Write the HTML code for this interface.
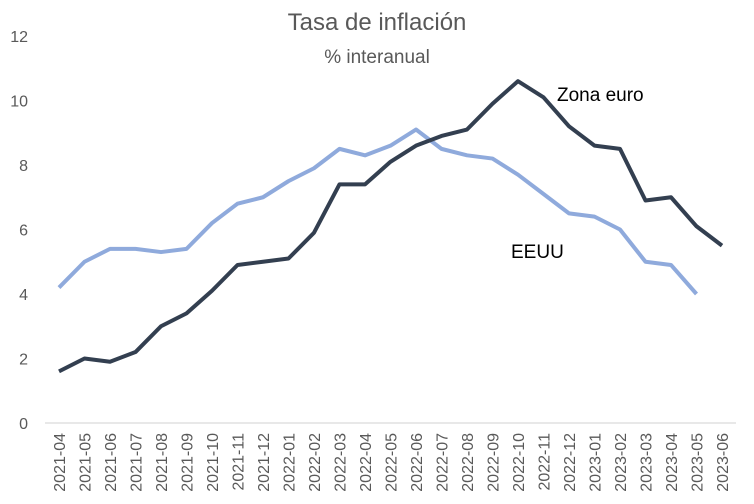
<!DOCTYPE html>
<html><head><meta charset="utf-8"><style>
body{margin:0;background:#fff;}
svg{display:block;font-family:"Liberation Sans",sans-serif;}
</style></head><body>
<svg id="chart" width="754" height="504" viewBox="0 0 754 504">
<rect width="754" height="504" fill="#fff"/>
<text x="377" y="30" text-anchor="middle" font-size="24" fill="#595959">Tasa de inflación</text>
<text x="377" y="63" text-anchor="middle" font-size="19" fill="#595959">% interanual</text>
<g id="yaxis"></g>
<g id="xaxis"></g>
<g id="series"></g>
<text x="557" y="101" font-size="19" fill="#000">Zona euro</text>
<text x="511" y="258" font-size="19" fill="#000">EEUU</text>
</svg>
<script>
const categories=["2021-04","2021-05","2021-06","2021-07","2021-08","2021-09","2021-10","2021-11","2021-12","2022-01","2022-02","2022-03","2022-04","2022-05","2022-06","2022-07","2022-08","2022-09","2022-10","2022-11","2022-12","2023-01","2023-02","2023-03","2023-04","2023-05","2023-06"];
const euroValues=[1.6,2.0,1.9,2.2,3.0,3.4,4.1,4.9,5.0,5.1,5.9,7.4,7.4,8.1,8.6,8.9,9.1,9.9,10.6,10.1,9.2,8.6,8.5,6.9,7.0,6.1,5.5];
const usValues=[4.2,5.0,5.4,5.4,5.3,5.4,6.2,6.8,7.0,7.5,7.9,8.5,8.3,8.6,9.1,8.5,8.3,8.2,7.7,7.1,6.5,6.4,6.0,5.0,4.9,4.0];
const yTicks=[0,2,4,6,8,10,12];
const NS="http://www.w3.org/2000/svg";
const x0=59,x1=722,y0=423,yTop=36,yMax=12;
function xs(i){return x0+(x1-x0)*i/(categories.length-1);}
function ys(v){return y0-(y0-yTop)*v/yMax;}
function mk(tag,attrs,parent){const e=document.createElementNS(NS,tag);for(const k in attrs)e.setAttribute(k,attrs[k]);parent.appendChild(e);return e;}
const ya=document.getElementById('yaxis'),xa=document.getElementById('xaxis'),sg=document.getElementById('series');
yTicks.forEach(v=>{
  const t=mk('text',{x:28,y:ys(v)+6,'text-anchor':'end','font-size':16,fill:'#595959'},ya);
  t.textContent=v;
  
  
});
const axl=mk('line',{x1:45,x2:736,y1:y0,y2:y0,stroke:'#d9d9d9','stroke-width':1.3},xa);


categories.forEach((c,i)=>{
  const x=xs(i)+6;
  const t=mk('text',{x:x,y:433,transform:`rotate(-90 ${x} 433)`,'text-anchor':'end','font-size':16,fill:'#595959'},xa);
  t.textContent=c;
  
  
});
function line(vals,color,name){
  const p=mk('polyline',{points:vals.map((v,i)=>xs(i)+','+ys(v)).join(' '),fill:'none',stroke:color,'stroke-width':4,'stroke-linejoin':'round'},sg);
  
  
}
line(usValues,'#8faadc','line-eeuu');
line(euroValues,'#333f50','line-zona-euro');
</script>
</body></html>
